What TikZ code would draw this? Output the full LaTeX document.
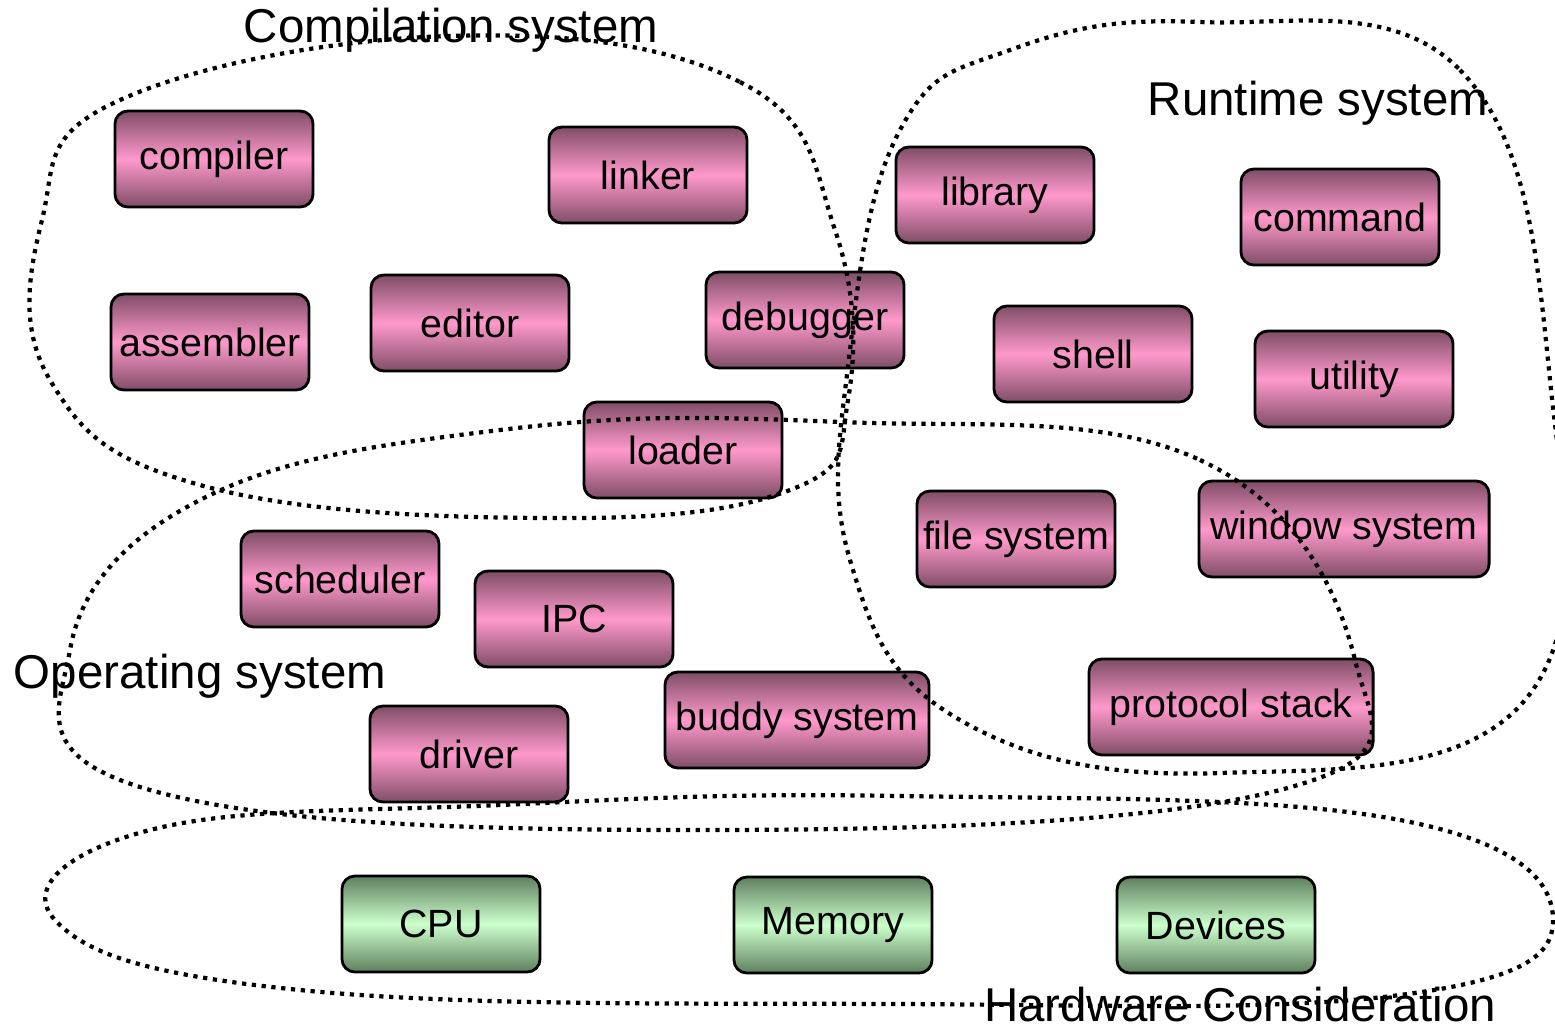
\documentclass[tikz,border=0pt]{standalone}
\usepackage{fontspec}
\setmainfont{Liberation Sans}
\usepackage{tikz}
\usetikzlibrary{positioning}
\definecolor{pinkdark}{HTML}{7F4D66}
\definecolor{pinkmid}{HTML}{FF99CC}
\definecolor{greendark}{HTML}{5F7F5F}
\definecolor{greenmid}{HTML}{CCFFCC}

\begin{document}
\begin{tikzpicture}[
    x=0.01cm, y=-0.01cm,
    box/.style={
        draw, line width=0.8pt, rounded corners=0.13cm,
        minimum width=1.98cm,
        minimum height=0.96cm,
        inner sep=1pt,
        font=\fontsize{11.2}{13}\selectfont,
        top color=pinkdark, bottom color=pinkdark, middle color=pinkmid
    },
    hwbox/.style={
        box,
        top color=greendark, bottom color=greendark, middle color=greenmid
    },
    group/.style={
        line width=1.2pt, dash pattern=on 1.2pt off 1.6pt
    },
    title/.style={
        font=\fontsize{13.5}{16}\selectfont, inner sep=0pt
    }
]
\useasboundingbox (0,0) rectangle (1555,1030);

% compilation system
\node[box] (compiler)  at (214,159) {compiler};
\node[box] (linker)    at (648,175) {linker};
\node[box] (assembler) at (210,342) {assembler};
\node[box] (editor)    at (470,323) {editor};
\node[box] (debugger)  at (805,320) {debugger};
\node[box] (loader)    at (683,450) {loader};

% runtime system
\node[box] (library)  at (995,195)  {library};
\node[box] (command)  at (1340,217) {command};
\node[box] (shell)    at (1093,354) {shell};
\node[box] (utility)  at (1354,379) {utility};
\node[box] (filesys)  at (1016,539) {file system};
\node[box, minimum width=2.9cm] (window) at (1344,529) {window system};

% operating system
\node[box] (scheduler) at (340,579) {scheduler};
\node[box] (ipc)       at (574,619) {IPC};
\node[box, minimum width=2.64cm] (buddy) at (797,720) {buddy system};
\node[box] (driver)    at (469,754) {driver};
\node[box, minimum width=2.84cm] (protocol) at (1231,707) {protocol stack};

% hardware
\node[hwbox] (cpu)     at (441,924)  {CPU};
\node[hwbox] (memory)  at (833,925)  {Memory};
\node[hwbox] (devices) at (1216,925) {Devices};

% group outlines
\draw[group] plot[smooth cycle, tension=0.7] coordinates {
    (450,36) (740,82) (835,230) (848,400) (790,490) (540,518)
    (200,485) (50,380) (42,220) (120,100)};
\draw[group] plot[smooth cycle, tension=0.7] coordinates {
    (1200,22) (1460,70) (1550,380) (1525,700) (1220,773)
    (960,720) (850,560) (850,350) (900,130) (1010,50)};
\draw[group] plot[smooth cycle, tension=0.7] coordinates {
    (840,422) (1200,460) (1355,660) (1280,790) (700,830)
    (150,790) (70,650) (200,500) (500,430)};
\draw[group] plot[smooth cycle, tension=0.7] coordinates {
    (900,796) (1400,820) (1553,920) (1400,995) (900,1004)
    (300,990) (55,920) (150,830) (500,805)};

% group titles
\node[title] (comptitle) at (451,30)   {Compilation system};
\node[title] (runtitle)  at (1318,103) {Runtime system};
\node[title] (ostitle)   at (200,676)  {Operating system};
\node[title] (hwtitle)   at (1240,1005) {Hardware Consideration};
\end{tikzpicture}
\end{document}
